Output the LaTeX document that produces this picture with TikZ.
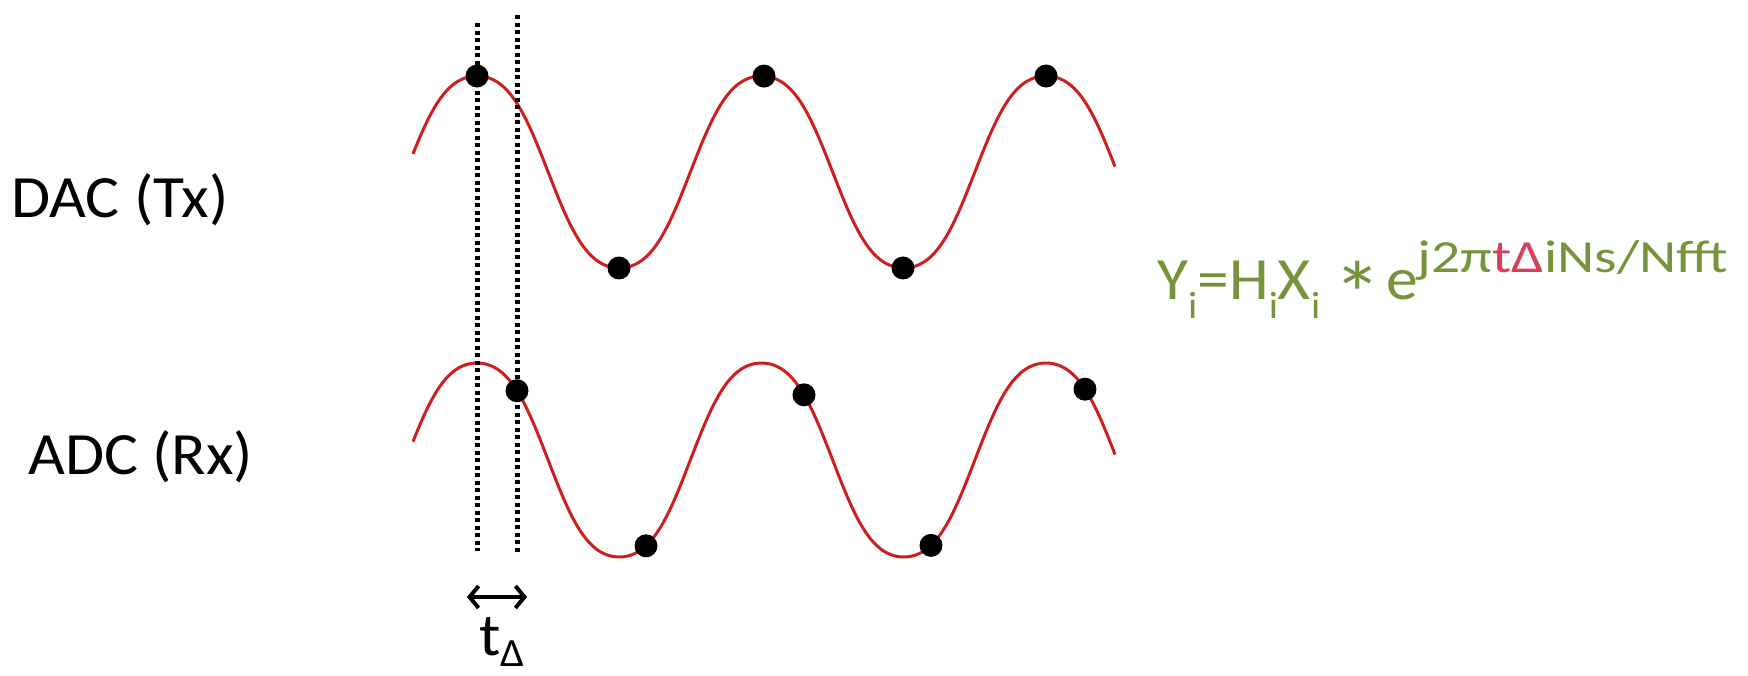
\documentclass[tikz,border=0pt]{standalone}
\usepackage{fontspec}
\setmainfont{Carlito}[FakeStretch=1.06]
\newfontfamily\supfont{Carlito}[FakeStretch=1.25]
\usetikzlibrary{arrows.meta}
\definecolor{wavered}{HTML}{CC1F1F}
\definecolor{fgreen}{HTML}{77933C}
\definecolor{fred}{HTML}{D6405A}
\tikzset{
  wave/.style={draw=wavered, line width=3pt},
  dot/.style={circle, fill=black, inner sep=0pt, minimum size=23pt},
  vline/.style={draw=black, line width=5pt, dash pattern=on 4pt off 3.5pt},
  lbl/.style={font=\fontsize{60}{70}\selectfont, inner sep=0pt},
}
\newcommand{\sbi}{\raisebox{-19pt}{\fontsize{38}{40}\selectfont i}}
\newcommand{\wv}[3]{#2 - #3*(cos(1.26538*(#1-477)) - 0.05*cos(3.79614*(#1-477)))/0.95}
\begin{document}
\begin{tikzpicture}[x=1pt,y=-1pt]
\useasboundingbox (0,0) rectangle (1748,675);
% waves
\draw[wave] plot[domain=413:1115, samples=300] (\x, {\wv{\x}{172}{96}});
\draw[wave] plot[domain=413:1115, samples=300] (\x, {\wv{\x}{460}{97}});
% dotted lines
\coordinate (l1t) at (477,23); \coordinate (l1b) at (477,551);
\coordinate (l2t) at (517,15); \coordinate (l2b) at (517,553);
\draw[vline] (l1t) -- (l1b);
\draw[vline] (l2t) -- (l2b);
% top dots
\node[dot] (t1) at (477,{\wv{477}{172}{96}}) {};
\node[dot] (t2) at (619,{\wv{619}{172}{96}}) {};
\node[dot] (t3) at (764,{\wv{764}{172}{96}}) {};
\node[dot] (t4) at (903,{\wv{903}{172}{96}}) {};
\node[dot] (t5) at (1046,{\wv{1046}{172}{96}}) {};
% bottom dots
\node[dot] (b1) at (517,{\wv{517}{460}{97}}) {};
\node[dot] (b2) at (646,{\wv{646}{460}{97}}) {};
\node[dot] (b3) at (804,{\wv{804}{460}{97}}) {};
\node[dot] (b4) at (931,{\wv{931}{460}{97}}) {};
\node[dot] (b5) at (1085,{\wv{1085}{460}{97}}) {};
% labels
\node[lbl, anchor=west] (dac) at (11,200) {DAC (Tx)};
\node[lbl, anchor=west] (adc) at (28,457) {ADC (Rx)};
% arrow
\coordinate (al) at (467,597); \coordinate (ar) at (527,597);
\draw[line width=4pt, {Straight Barb[length=9pt,width=22pt]}-{Straight Barb[length=9pt,width=22pt]}] (al) -- (ar);
\node[lbl, anchor=base west] (td) at (479,655) {t\raisebox{-11pt}{\fontsize{40}{40}\selectfont Δ}};
% formula
\node[lbl, anchor=base west, text=fgreen] (eq) at (1157,299) {Y\sbi=H\sbi X\sbi};
\node[inner sep=0pt, anchor=north, text=fgreen, font=\fontsize{92}{92}\selectfont] (star) at (1358,261) {*};
\node[lbl, anchor=base west, text=fgreen] (ex) at (1386,299)
  {e\raisebox{27pt}{\supfont\fontsize{46}{46}\selectfont j2π\textcolor{fred}{tΔ}iNs/Nfft}};
\end{tikzpicture}
\end{document}
